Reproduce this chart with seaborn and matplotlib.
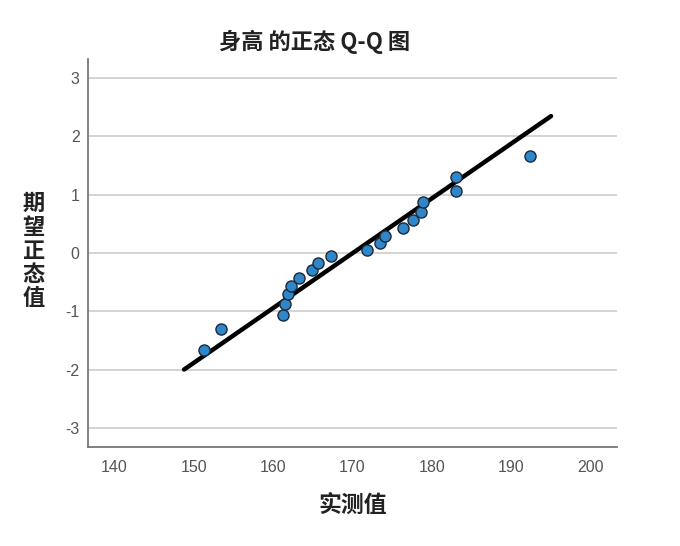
import matplotlib
matplotlib.use("Agg")
import matplotlib.pyplot as plt
import seaborn as sns
import pandas as pd

# Data
observed = [151.3, 153.5, 161.3, 161.5, 161.9, 162.2, 163.3, 164.9, 165.7, 167.3,
            171.8, 173.5, 174.1, 176.4, 177.6, 178.6, 178.9, 183.0, 183.0, 192.3]
expected = [-1.67, -1.31, -1.07, -0.88, -0.71, -0.57, -0.43, -0.30, -0.18, -0.06,
            0.06, 0.18, 0.30, 0.43, 0.57, 0.71, 0.88, 1.07, 1.31, 1.67]
line_x = [148.8, 195.0]
line_y = [-2.00, 2.35]
x_ticks = [140, 150, 160, 170, 180, 190, 200]
y_ticks = [-3, -2, -1, 0, 1, 2, 3]
title = "身高 的正态 Q-Q 图"
x_label = "实测值"
y_label = "期望正态值"

sns.set_theme(style="white")
plt.rcParams['font.family'] = ['Liberation Sans', 'Noto Sans CJK SC', 'DejaVu Sans']
plt.rcParams['axes.unicode_minus'] = False

df = pd.DataFrame({"obs": observed, "exp": expected})
line_df = pd.DataFrame({"x": line_x, "y": line_y})

fig = plt.figure(figsize=(6.8, 5.46), dpi=100)
ax = fig.add_axes([88/680, 1-447/546, (617-88)/680, (447-59)/546])

for yt in y_ticks:
    ax.axhline(yt, color="#d0d0d0", lw=1.3, zorder=0)

sns.lineplot(data=line_df, x="x", y="y", ax=ax, color="black", lw=3.2, zorder=2)
sns.scatterplot(data=df, x="obs", y="exp", ax=ax, s=64, color="#2f86c8",
                edgecolor="#1b2a3a", linewidth=1.0, zorder=3)

ax.set_xlim(136.7, 203.3)
ax.set_ylim(-3.33, 3.33)
ax.set_xticks(x_ticks)
ax.set_yticks(y_ticks)
ax.tick_params(axis="both", length=0, labelsize=11.5, labelcolor="#555555")
ax.tick_params(axis="x", pad=9)
ax.tick_params(axis="y", pad=6)

for s in ["top", "right"]:
    ax.spines[s].set_visible(False)
for s in ["left", "bottom"]:
    ax.spines[s].set_color("#777777")
    ax.spines[s].set_linewidth(1.3)

cjk = ['Noto Sans CJK SC', 'DejaVu Sans']
ax.set_xlabel(x_label, family=cjk, fontsize=16.5, fontweight="bold", color="#222222", labelpad=14)
ax.set_ylabel("\n".join(y_label), family=cjk, fontsize=16, fontweight="bold",
              color="#222222", rotation=0, labelpad=0, linespacing=1.05,
              va="center", ha="center")
ax.yaxis.set_label_coords(-0.103, 0.505)
fig.text(315/680, 1-42/546, title, family=cjk, fontsize=16, fontweight="bold",
         color="#222222", ha="center", va="center")

fig.savefig("out.png", dpi=100, facecolor="white")
